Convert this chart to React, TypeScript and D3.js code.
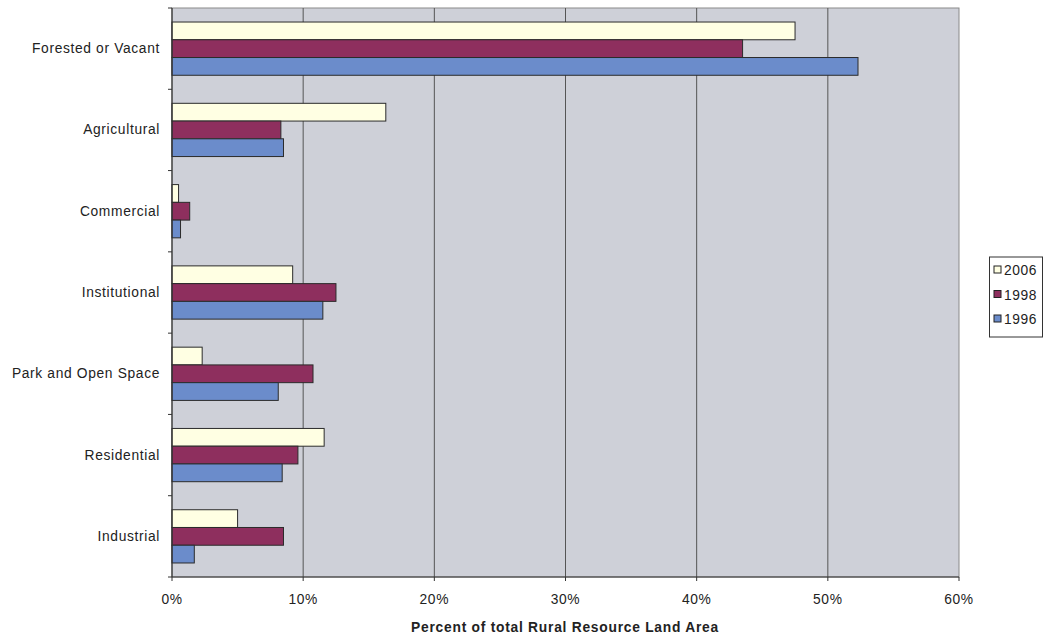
import React from "react";
import * as d3 from "d3";

const categories = ["Forested or Vacant", "Agricultural", "Commercial", "Institutional", "Park and Open Space", "Residential", "Industrial"];
const seriesNames = ["2006", "1998", "1996"];
const values2006 = [47.5, 16.3, 0.5, 9.2, 2.3, 11.6, 5.0];
const values1998 = [43.5, 8.3, 1.35, 12.5, 10.75, 9.6, 8.5];
const values1996 = [52.3, 8.5, 0.65, 11.5, 8.1, 8.4, 1.7];
const xTicks = [0, 10, 20, 30, 40, 50, 60];
const colors = ["#FFFFE3", "#8E2F5E", "#6B8CCB"];

export default function App() {
  const W = 1044, H = 637;
  const left = 172, right = 959, top = 8, bottom = 577;
  const x = d3.scaleLinear().domain([0, 60]).range([left, right]);
  const y = d3.scaleBand().domain(categories).range([top, bottom]).paddingInner(0.345).paddingOuter(0.1725);
  const sub = d3.scaleBand().domain(seriesNames).range([0, y.bandwidth()]);
  const data = [values2006, values1998, values1996];
  const step = (bottom - top) / categories.length;
  const font = "Arial, 'Liberation Sans', sans-serif";
  const fs = 13.8;
  const ls = 0.65;

  return (
    <svg width={W} height={H} style={{ position: "absolute", left: 0, top: 0, background: "#fff" }}>
      <rect x={left} y={top} width={right - left} height={bottom - top} fill="#CED0D8" stroke="#8a8a8a" strokeWidth={1} />
      {xTicks.slice(1, -1).map((t) => (
        <line key={t} x1={x(t)} x2={x(t)} y1={top} y2={bottom} stroke="#555" strokeWidth={1} />
      ))}
      {categories.map((c, ci) =>
        seriesNames.map((s, si) => (
          <rect
            key={c + s}
            x={x(0)}
            y={(y(c) as number) + (sub(s) as number)}
            width={x(data[si][ci]) - x(0)}
            height={sub.bandwidth()}
            fill={colors[si]}
            stroke="#2b2b2b"
            strokeWidth={1}
          />
        ))
      )}
      <line x1={left} x2={left} y1={top} y2={bottom} stroke="#333" strokeWidth={1.2} />
      <line x1={left} x2={right} y1={bottom} y2={bottom} stroke="#333" strokeWidth={1.2} />
      {d3.range(categories.length + 1).map((i) => (
        <line key={i} x1={left - 4} x2={left} y1={top + i * step} y2={top + i * step} stroke="#333" />
      ))}
      {xTicks.map((t) => (
        <g key={t}>
          <line x1={x(t)} x2={x(t)} y1={bottom} y2={bottom + 4} stroke="#333" />
          <text x={x(t)} y={604} textAnchor="middle" fontFamily={font} fontSize={fs} letterSpacing={ls} fill="#222">{t}%</text>
        </g>
      ))}
      {categories.map((c) => (
        <text key={c} x={160} y={(y(c) as number) + y.bandwidth() / 2 + 4.5} textAnchor="end" fontFamily={font} fontSize={fs} letterSpacing={ls} fill="#222">{c}</text>
      ))}
      <text x={565} y={632} textAnchor="middle" fontFamily={font} fontSize={fs} letterSpacing={0.75} fontWeight="bold" fill="#222">Percent of total Rural Resource Land Area</text>
      <rect x={989.5} y={257} width={53} height={80} fill="#fff" stroke="#333" strokeWidth={1} />
      {seriesNames.map((s, i) => (
        <g key={s}>
          <rect x={994} y={266 + i * 24.5} width={7} height={7} fill={colors[i]} stroke="#222" />
          <text x={1004} y={275 + i * 24.5} fontFamily={font} fontSize={fs} letterSpacing={0.6} fill="#222">{s}</text>
        </g>
      ))}
    </svg>
  );
}
